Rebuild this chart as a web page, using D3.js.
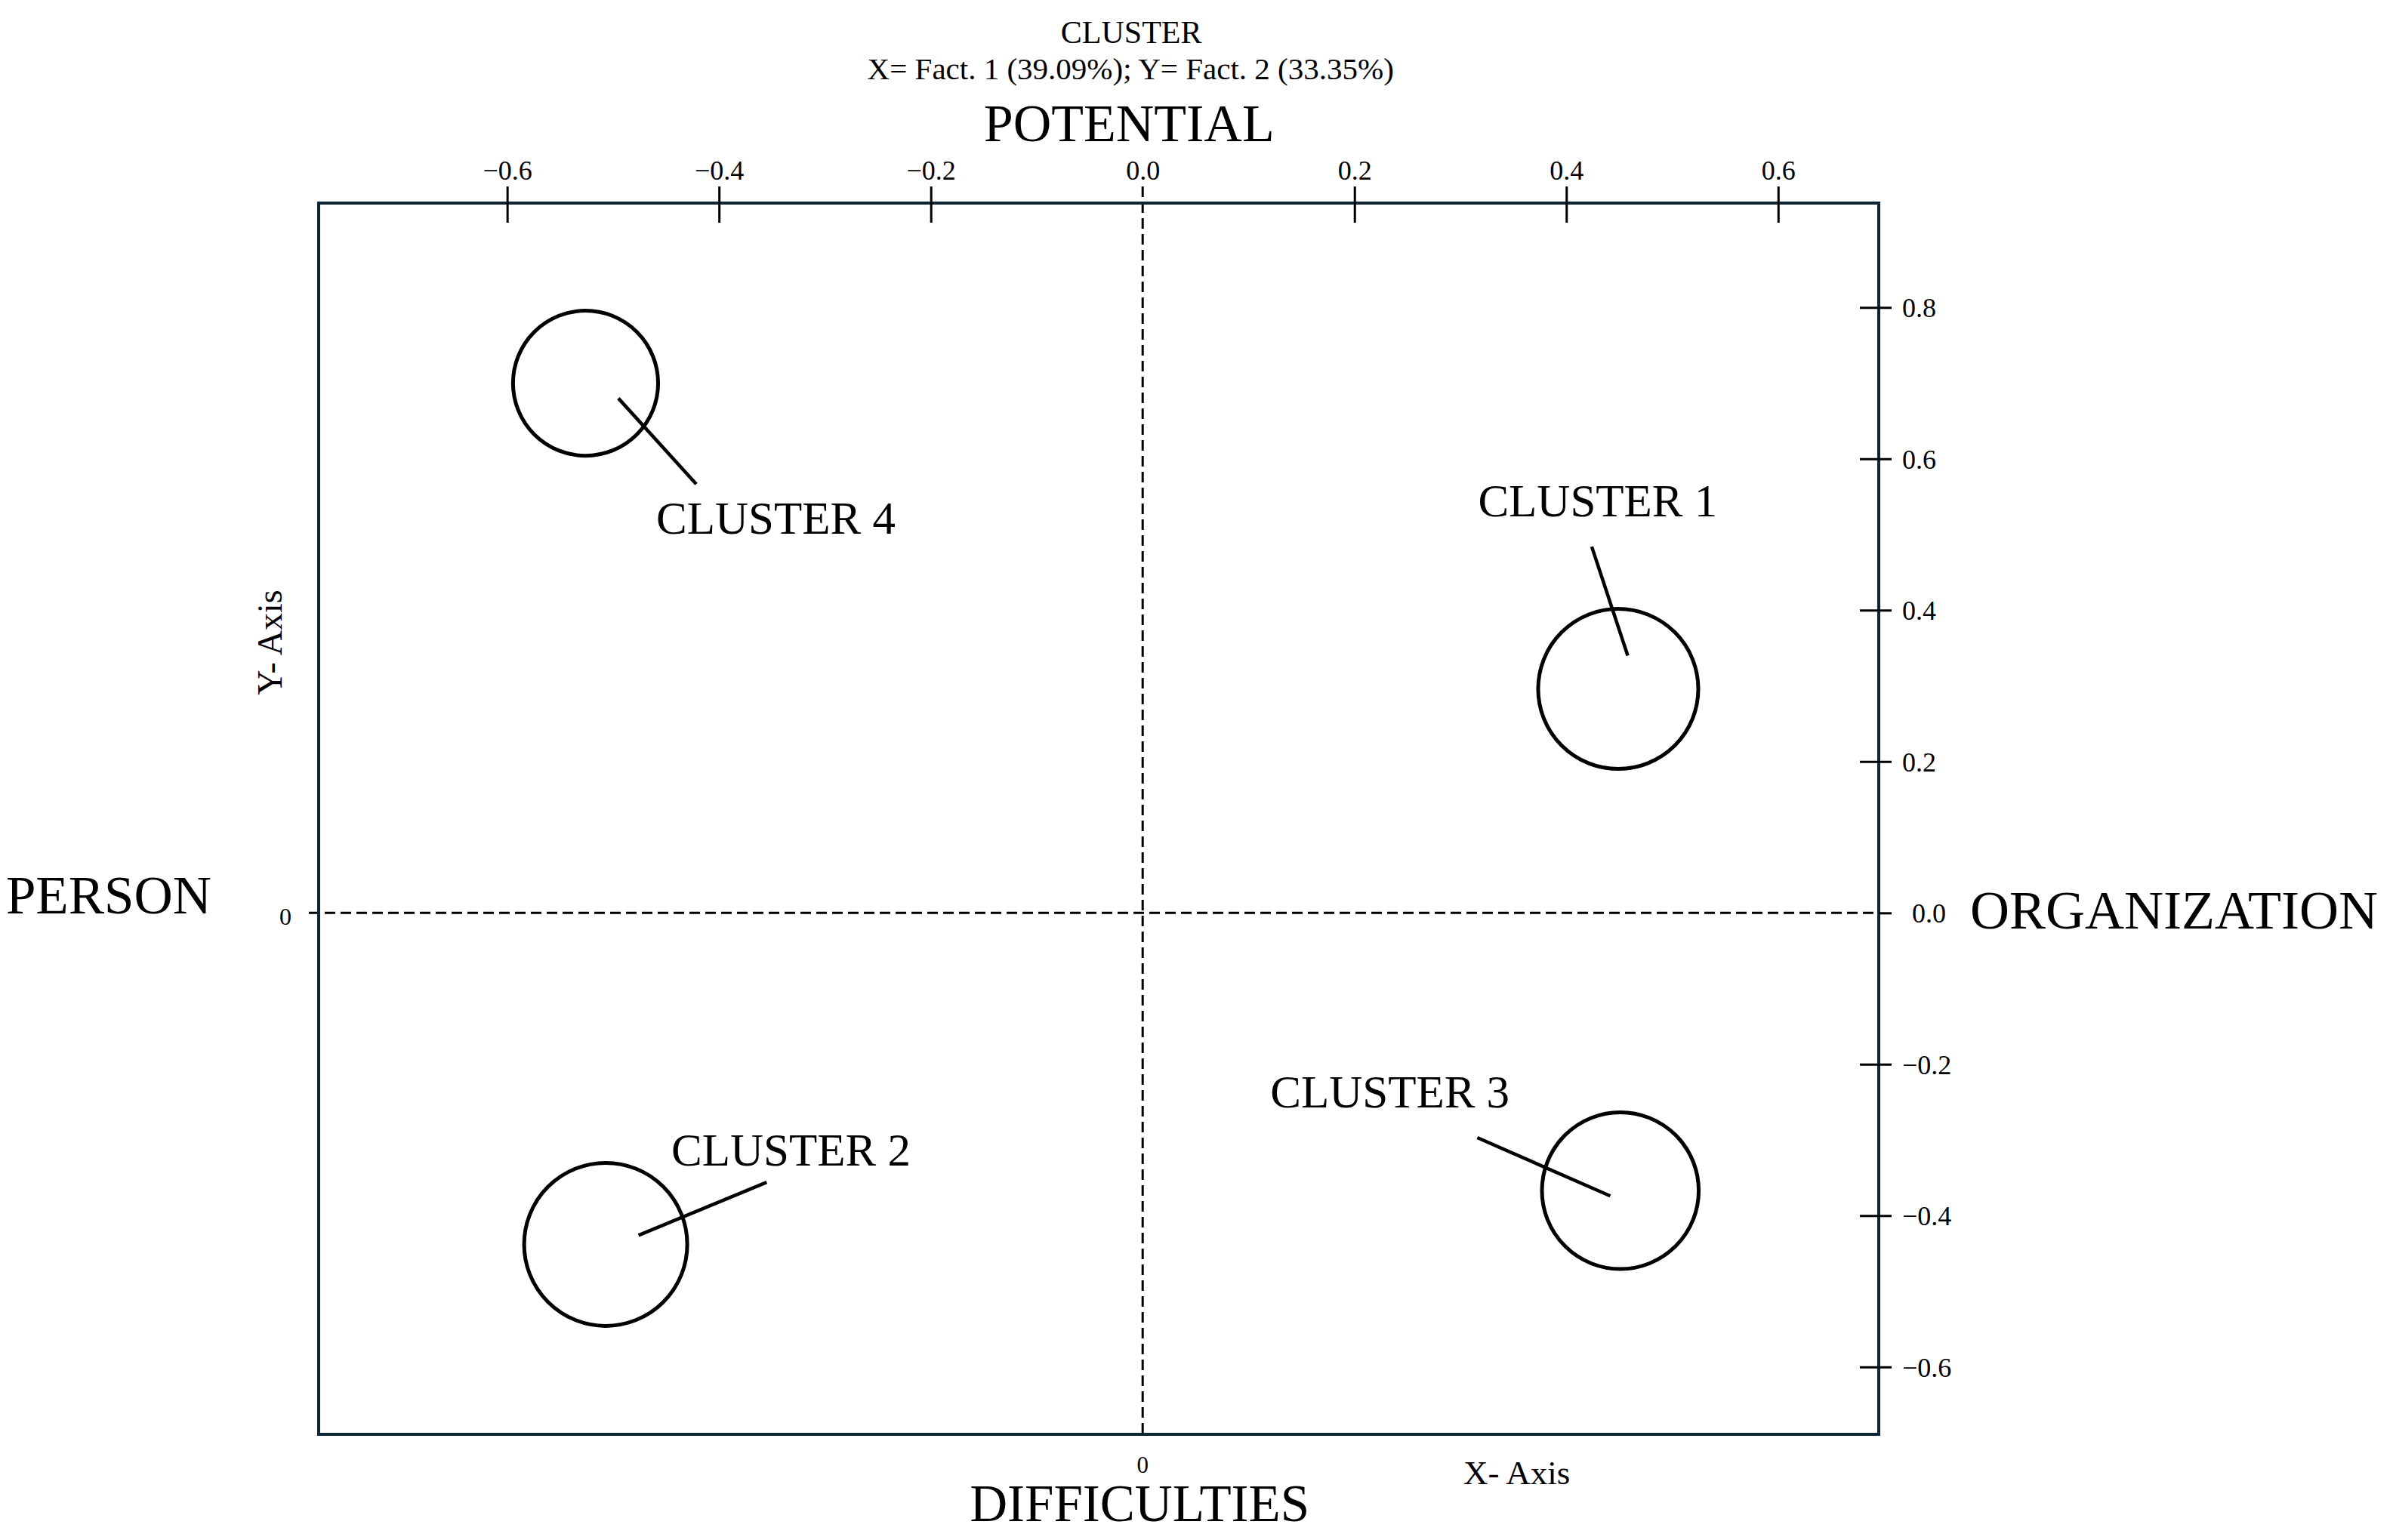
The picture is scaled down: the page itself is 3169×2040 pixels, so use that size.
<!DOCTYPE html>
<html>
<head>
<meta charset="utf-8">
<script src="https://cdn.jsdelivr.net/npm/d3@7"></script>
<style>
  body { margin: 0; background: #fff; }
  text { font-family: "Liberation Serif", "Times New Roman", serif; fill: #000; }
</style>
</head>
<body>
<script>
// Data (factor coordinates)
const clusterNames = ["CLUSTER 1", "CLUSTER 2", "CLUSTER 3", "CLUSTER 4"];
const fact1 = [0.449, -0.507, 0.451, -0.526];
const fact2 = [0.296, -0.438, -0.367, 0.700];
const clusterRadius = [0.0756, 0.077, 0.074, 0.0685]; // in Fact. 1 units
const leaderFrom = [[0.458, 0.340], [-0.476, -0.426], [0.4415, -0.374], [-0.495, 0.680]];
const leaderTo = [[0.424, 0.484], [-0.355, -0.356], [0.316, -0.297], [-0.4215, 0.5666]];
const labelAt = [[0.3167, 0.5237], [-0.445, -0.334], [0.1205, -0.2574], [-0.4593, 0.5007]];

const xTicks = [-0.6, -0.4, -0.2, 0.0, 0.2, 0.4, 0.6];
const yTicks = [-0.6, -0.4, -0.2, 0.0, 0.2, 0.4, 0.6, 0.8];
const xDomain = [-0.778, 0.695];
const yDomain = [-0.689, 0.938];

const title = "CLUSTER";
const subtitle = "X= Fact. 1 (39.09%); Y= Fact. 2 (33.35%)";

const width = 3169, height = 2040;
const margin = {top: 269, right: 681, bottom: 140, left: 422};
const navy = "#0e2535";

const svg = d3.select("body").append("svg")
  .attr("width", width)
  .attr("height", height);

const x = d3.scaleLinear().domain(xDomain).range([margin.left, width - margin.right]);
const y = d3.scaleLinear().domain(yDomain).range([height - margin.bottom, margin.top]);

// dashed zero lines
svg.append("line")
  .attr("x1", x(0)).attr("x2", x(0))
  .attr("y1", margin.top - 22).attr("y2", height - margin.bottom + 6)
  .attr("stroke", "#000").attr("stroke-width", 3)
  .attr("stroke-dasharray", "14,7");
svg.append("line")
  .attr("x1", margin.left - 13).attr("x2", width - margin.right)
  .attr("y1", y(0)).attr("y2", y(0))
  .attr("stroke", "#000").attr("stroke-width", 3)
  .attr("stroke-dasharray", "14,7");

// frame
svg.append("rect")
  .attr("x", margin.left).attr("y", margin.top)
  .attr("width", width - margin.left - margin.right)
  .attr("height", height - margin.top - margin.bottom)
  .attr("fill", "none").attr("stroke", navy).attr("stroke-width", 4);

// top axis
const fmt = d3.format(".1f");
const gx = svg.append("g")
  .attr("transform", `translate(0,${margin.top})`)
  .call(d3.axisTop(x).tickValues(xTicks).tickFormat(fmt));
gx.select(".domain").remove();
gx.selectAll(".tick line")
  .attr("y1", 26).attr("y2", -22)
  .attr("stroke", "#000").attr("stroke-width", 3)
  .attr("display", d => d === 0 ? "none" : null);
gx.selectAll(".tick text")
  .attr("y", -31).attr("dy", null)
  .attr("font-size", 36)
  .style("font-family", "Liberation Serif");

// right axis
const gy = svg.append("g")
  .attr("transform", `translate(${width - margin.right},0)`)
  .call(d3.axisRight(y).tickValues(yTicks).tickFormat(fmt));
gy.select(".domain").remove();
gy.selectAll(".tick line")
  .attr("x1", d => d === 0 ? 0 : -25).attr("x2", 17)
  .attr("stroke", "#000").attr("stroke-width", 3);
gy.selectAll(".tick text")
  .attr("x", d => d === 0 ? 44 : 31).attr("dy", "0.34em")
  .attr("font-size", 36)
  .style("font-family", "Liberation Serif");

// clusters
const clusters = clusterNames.map((name, i) => ({
  name, fx: fact1[i], fy: fact2[i], r: clusterRadius[i],
  from: leaderFrom[i], to: leaderTo[i], label: labelAt[i]
}));

const g = svg.append("g");
g.selectAll("circle").data(clusters).join("circle")
  .attr("cx", d => x(d.fx))
  .attr("cy", d => y(d.fy))
  .attr("r", d => x(d.r) - x(0))
  .attr("fill", "none").attr("stroke", "#000").attr("stroke-width", 5);
g.selectAll("line.leader").data(clusters).join("line")
  .attr("class", "leader")
  .attr("x1", d => x(d.from[0])).attr("y1", d => y(d.from[1]))
  .attr("x2", d => x(d.to[0])).attr("y2", d => y(d.to[1]))
  .attr("stroke", "#000").attr("stroke-width", 4.5);
g.selectAll("text").data(clusters).join("text")
  .attr("x", d => x(d.label[0]))
  .attr("y", d => y(d.label[1]))
  .attr("font-size", 61)
  .text(d => d.name);

// titles and quadrant labels
const midX = x(0);
svg.append("text").attr("x", midX - 15).attr("y", 57)
  .attr("text-anchor", "middle").attr("font-size", 42).text(title);
svg.append("text").attr("x", midX - 16).attr("y", 105)
  .attr("text-anchor", "middle").attr("font-size", 41).text(subtitle);
svg.append("text").attr("x", midX - 18).attr("y", 187)
  .attr("text-anchor", "middle").attr("font-size", 70).text("POTENTIAL");
svg.append("text").attr("x", midX - 4).attr("y", 2015)
  .attr("text-anchor", "middle").attr("font-size", 69).text("DIFFICULTIES");
svg.append("text").attr("x", 144).attr("y", 1210)
  .attr("text-anchor", "middle").attr("font-size", 71).text("PERSON");
svg.append("text").attr("x", 2609).attr("y", 1230)
  .attr("font-size", 72).text("ORGANIZATION");

// axis names and zero marks
svg.append("text")
  .attr("transform", "translate(373,851) rotate(-90)")
  .attr("text-anchor", "middle").attr("font-size", 46).text("Y- Axis");
svg.append("text").attr("x", 1938).attr("y", 1966)
  .attr("font-size", 45).text("X- Axis");
svg.append("text").attr("x", midX).attr("y", 1951)
  .attr("text-anchor", "middle").attr("font-size", 31).text("0");
svg.append("text").attr("x", 378).attr("y", 1225)
  .attr("text-anchor", "middle").attr("font-size", 32).text("0");
</script>
</body>
</html>
